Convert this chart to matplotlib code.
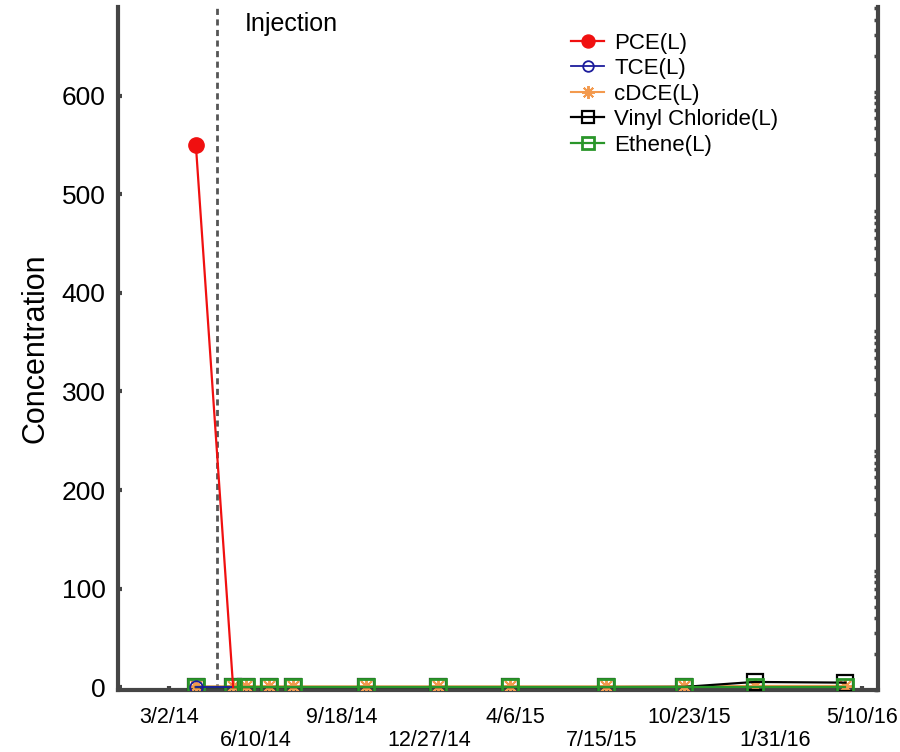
import numpy as np
import pandas as pd
import matplotlib
matplotlib.use("Agg")
import matplotlib.pyplot as plt
from matplotlib.ticker import LogLocator, NullFormatter

plt.rcParams['font.family'] = ['Liberation Sans', 'DejaVu Sans']

### sample data
dates = pd.to_datetime(['2014-04-02', '2014-05-15', '2014-05-30', '2014-06-25', '2014-07-23',
                        '2014-10-15', '2015-01-07', '2015-03-31', '2015-07-20', '2015-10-18',
                        '2016-01-07', '2016-04-21'])
pce = [550, 0.5]
tce = [0.5, 0.5]
cdce = [1.0, 1.0, 1.0, 1.0, 1.0, 1.0, 1.0, 1.0, 1.0, 1.0, 1.5, 1.5]
vc = [0.3, 0.3, 0.3, 0.3, 0.3, 0.3, 0.3, 0.3, 0.3, 0.5, 5.5, 4.8]
ethene = [0.8, 0.8, 0.8, 0.8, 0.8, 0.8, 0.8, 0.8, 0.8, 0.8, 0.8, 0.8]

tick_dates = pd.to_datetime(['2014-03-02', '2014-06-10', '2014-09-18', '2014-12-27', '2015-04-06',
                             '2015-07-15', '2015-10-23', '2016-01-31', '2016-05-10'])
tick_labels = ['3/2/14', '6/10/14', '9/18/14', '12/27/14', '4/6/15',
               '7/15/15', '10/23/15', '1/31/16', '5/10/16']
injection_date = pd.Timestamp('2014-04-26')

spine_col = '#454545'

fig = plt.figure(figsize=(9, 7.52), dpi=100)
ax = fig.add_axes([0.131, 0.082, 0.845, 0.909])

l_cdce, = ax.plot(dates, cdce, color='#f39a4e', lw=1.5, marker=(8, 2, 0), ms=11, mew=1.4,
                  zorder=3)
l_vc, = ax.plot(dates, vc, color='black', lw=1.6, marker='s', ms=11, mfc='none', mew=1.6, zorder=4)
l_eth, = ax.plot(dates, ethene, color='#2a962a', lw=1.6, marker='s', ms=11, mfc='none', mew=2, zorder=5)
l_tce, = ax.plot(dates[:2], tce, color='#1c1c9c', lw=1.3, marker='o', ms=9, mfc='none', mew=1.3,
                 markevery=[0], zorder=6)
l_pce, = ax.plot(dates[:2], pce, color='#f01010', lw=1.6, marker='o', ms=11, mfc='#f01010',
                 markevery=[0], zorder=7)

ax.axvline(injection_date, color='#555555', lw=2, ls=(0, (2.2, 1.6)), zorder=2)
ax.text(pd.Timestamp('2014-05-29'), 673, 'Injection', fontsize=18, va='center', ha='left')

ax.set_xlim(pd.Timestamp('2014-01-02'), pd.Timestamp('2016-05-29'))
ax.set_ylim(-3, 690)
ax.set_yticks(np.arange(0, 601, 100))
ax.set_xticks(tick_dates)
ax.set_xticklabels([lab if i % 2 == 0 else '\n' + lab for i, lab in enumerate(tick_labels)],
                   fontsize=15.5, linespacing=1.15)
ax.set_ylabel('Concentration', fontsize=22, labelpad=8)

ax.tick_params(axis='both', direction='in', length=3, width=3, color=spine_col)
ax.tick_params(axis='x', pad=12)
ax.tick_params(axis='y', pad=9, labelsize=19)
for s in ['left', 'bottom']:
    ax.spines[s].set_linewidth(3)
    ax.spines[s].set_color(spine_col)
ax.spines['top'].set_visible(False)
ax.spines['right'].set_visible(False)

# right axis with log ticks, no labels
ax2 = ax.twinx()
ax2.set_yscale('log')
ax2.set_ylim(1, 10**5.71)
ax2.yaxis.set_major_locator(LogLocator(base=10, numticks=10))
ax2.yaxis.set_minor_locator(LogLocator(base=10, subs=np.arange(2, 10), numticks=20))
ax2.yaxis.set_major_formatter(NullFormatter())
ax2.yaxis.set_minor_formatter(NullFormatter())
ax2.tick_params(axis='y', which='both', direction='in', length=3, width=2.5, color=spine_col)
for s in ['left', 'bottom', 'top']:
    ax2.spines[s].set_visible(False)
ax2.spines['right'].set_linewidth(3)
ax2.spines['right'].set_color(spine_col)

ax.legend([l_pce, l_tce, l_cdce, l_vc, l_eth],
          ['PCE(L)', 'TCE(L)', 'cDCE(L)', 'Vinyl Chloride(L)', 'Ethene(L)'],
          loc='upper left', bbox_to_anchor=(0.584, 0.975), frameon=False, fontsize=16,
          markerscale=0.85, handlelength=1.5, handletextpad=0.45, labelspacing=0.2,
          borderaxespad=0)

fig.savefig('out.png', dpi=100)
